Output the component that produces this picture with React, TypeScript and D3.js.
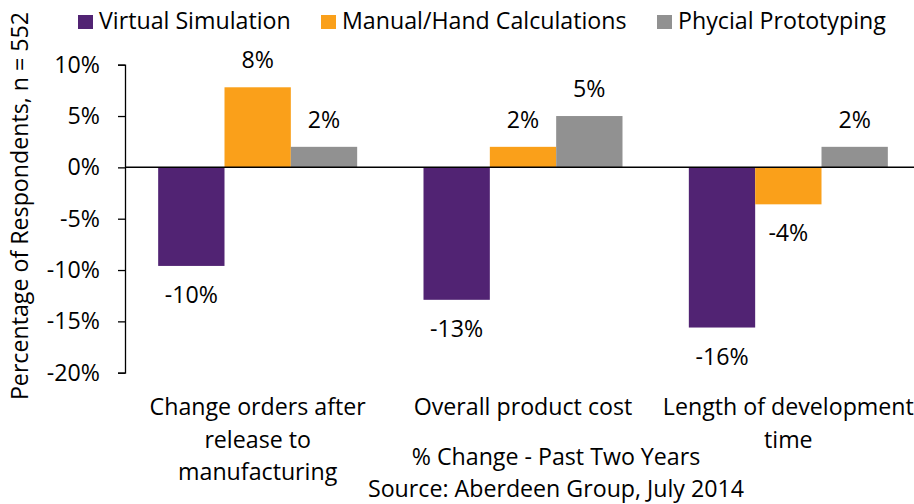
import { useEffect, useRef } from "react";
import * as d3 from "d3";

const categories = [
  "Change orders after release to manufacturing",
  "Overall product cost",
  "Length of development time",
];
const categoryLines = [
  ["Change orders after", "release to", "manufacturing"],
  ["Overall product cost"],
  ["Length of development", "time"],
];
const seriesNames = [
  "Virtual Simulation",
  "Manual/Hand Calculations",
  "Phycial Prototyping",
];
const virtualSimulation = [-9.6, -12.9, -15.6];
const manualCalculations = [7.8, 2.0, -3.6];
const physicalPrototyping = [2.0, 5.0, 2.0];
const yTicks = [-20, -15, -10, -5, 0, 5, 10];

const colors = ["#512373", "#FAA01A", "#919191"];
const FONT = "'Open Sans', sans-serif";
const FS = 23.2;

export default function App() {
  const svgRef = useRef<SVGSVGElement>(null);

  useEffect(() => {
    const root = d3.select(svgRef.current);
    root.selectAll("*").remove();

    const width = 914;
    const height = 504;
    root.attr("width", width).attr("height", height);

    const svg = root
      .append("g")
      .attr("font-family", FONT)
      .attr("font-size", FS)
      .attr("fill", "#000");

    const seriesValues = [virtualSimulation, manualCalculations, physicalPrototyping];

    // scales
    const x = d3.scaleBand().domain(categories).range([125, 921]).padding(0);
    const xSub = d3
      .scaleBand()
      .domain(seriesNames)
      .range([0, x.bandwidth()])
      .paddingInner(0)
      .paddingOuter(0.5);
    const y = d3.scaleLinear().domain([-20, 10]).range([372.7, 64.7]);

    // y axis
    const yAxis = d3
      .axisLeft(y)
      .tickValues(yTicks)
      .tickSize(7)
      .tickPadding(18)
      .tickFormat((d) => `${d}%`);

    const gy = svg.append("g").attr("transform", "translate(125,0)").call(yAxis);
    gy.selectAll("path, line").attr("stroke", "#000").attr("stroke-width", 1.3);
    gy.selectAll("text")
      .attr("font-family", FONT)
      .attr("font-size", FS)
      .attr("fill", "#000");

    // y title
    svg
      .append("text")
      .attr("transform", `translate(28,206) rotate(-90)`)
      .attr("text-anchor", "middle")
      .text("Percentage of Respondents, n = 552");

    // bars
    seriesNames.forEach((name, si) => {
      const vals = seriesValues[si];
      const data = categories.map((c, i) => ({ c, v: vals[i] }));
      svg
        .selectAll(`.bar-${si}`)
        .data(data)
        .enter()
        .append("rect")
        .attr("class", `bar-${si}`)
        .attr("x", (d) => (x(d.c) as number) + (xSub(name) as number))
        .attr("y", (d) => y(Math.max(0, d.v)))
        .attr("width", xSub.bandwidth())
        .attr("height", (d) => Math.abs(y(d.v) - y(0)))
        .attr("fill", colors[si]);

      svg
        .selectAll(`.label-${si}`)
        .data(data)
        .enter()
        .append("text")
        .attr("class", `label-${si}`)
        .attr("x", (d) => (x(d.c) as number) + (xSub(name) as number) + xSub.bandwidth() / 2)
        .attr("y", (d) => (d.v >= 0 ? y(d.v) - 19 : y(d.v) + 37))
        .attr("text-anchor", "middle")
        .text((d) => `${Math.round(d.v)}%`);
    });

    // zero line
    svg
      .append("line")
      .attr("x1", 125)
      .attr("x2", width)
      .attr("y1", y(0))
      .attr("y2", y(0))
      .attr("stroke", "#000")
      .attr("stroke-width", 1.5);

    // category labels
    categories.forEach((c, i) => {
      const t = svg
        .append("text")
        .attr("text-anchor", "middle")
        .attr("x", (x(c) as number) + x.bandwidth() / 2)
        .attr("y", 415);
      categoryLines[i].forEach((line, li) => {
        t.append("tspan")
          .attr("x", (x(c) as number) + x.bandwidth() / 2)
          .attr("y", 415 + li * 32.5)
          .text(line);
      });
    });

    // axis title + source
    svg
      .append("text")
      .attr("x", 556)
      .attr("y", 465)
      .attr("text-anchor", "middle")
      .text("% Change - Past Two Years");
    svg
      .append("text")
      .attr("x", 556)
      .attr("y", 497)
      .attr("text-anchor", "middle")
      .text("Source: Aberdeen Group, July 2014");

    // legend
    const legendX = [78, 321, 657];
    seriesNames.forEach((name, i) => {
      const g = svg.append("g").attr("transform", `translate(${legendX[i]},0)`);
      g.append("rect")
        .attr("x", 0)
        .attr("y", 15)
        .attr("width", 15)
        .attr("height", 14)
        .attr("fill", colors[i]);
      g.append("text").attr("x", 21).attr("y", 29).text(name);
    });
  }, []);

  return (
    <svg
      ref={svgRef}
      style={{ position: "absolute", left: 0, top: 0, display: "block", background: "#fff" }}
    />
  );
}
